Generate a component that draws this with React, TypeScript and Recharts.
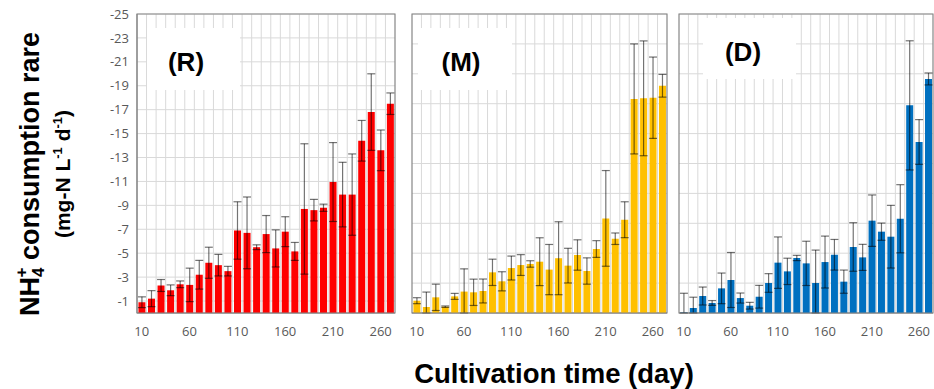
import React from "react"
import { BarChart, Bar, XAxis, YAxis, CartesianGrid, ErrorBar, ReferenceArea } from "recharts"

// cultivation day (categories)
const days = [10, 20, 30, 40, 50, 60, 70, 80, 90, 100, 110, 120, 130, 140, 150, 160, 170, 180, 190, 200, 210, 220, 230, 240, 250, 260, 270]

// (R) consumption rate + sd
const rVals = [-0.9, -1.2, -2.3, -1.9, -2.4, -2.35, -3.2, -4.2, -4.0, -3.5, -6.9, -6.7, -5.5, -6.6, -5.4, -6.8, -5.15, -8.7, -8.6, -8.8, -10.95, -9.9, -9.9, -14.4, -16.8, -13.6, -17.5]
const rErr = [0.45, 0.67, 0.5, 0.45, 0.28, 1.4, 1.2, 1.3, 0.9, 0.4, 2.4, 3.0, 0.2, 1.55, 1.55, 1.25, 0.75, 5.45, 0.9, 0.3, 3.3, 2.7, 3.4, 1.7, 3.2, 1.7, 0.9]

// (M)
const mVals = [-1.03, -0.5, -1.31, -0.53, -1.39, -1.79, -1.73, -1.84, -3.4, -2.65, -3.76, -4.01, -4.1, -4.29, -3.63, -4.58, -3.96, -4.85, -3.51, -5.35, -7.91, -6.21, -7.8, -17.9, -17.95, -18.0, -19.0]
const mErr = [0.25, 1.25, 1.1, 0.06, 0.25, 1.9, 1.1, 1.0, 1.1, 0.8, 1.0, 0.87, 0.27, 2.0, 2.1, 3.05, 1.45, 1.27, 1.1, 0.7, 4.0, 0.48, 1.5, 4.6, 4.8, 3.4, 0.95]

// (D)
const dVals = [-0.05, -0.42, -1.42, -0.84, -2.06, -2.76, -1.25, -0.61, -1.36, -2.51, -4.21, -3.48, -4.6, -4.15, -2.51, -4.26, -4.87, -2.62, -5.52, -4.65, -7.72, -6.8, -6.38, -7.88, -17.36, -14.3, -19.57]
const dErr = [1.6, 0.9, 0.75, 0.2, 1.28, 2.3, 0.42, 0.28, 0.95, 0.78, 2.15, 1.1, 0.22, 1.85, 2.75, 2.17, 1.28, 0.97, 2.03, 1.09, 2.15, 0.72, 2.62, 2.85, 5.4, 1.87, 0.5]

const rTicks = [-1, -3, -5, -7, -9, -11, -13, -15, -17, -19, -21, -23, -25]
const mdTicks = [-2.5, -5, -7.5, -10, -12.5, -15, -17.5, -20, -22.5, -25]

const tickFont = { fontFamily: "Open Sans", fontSize: 13, fill: "#595959" }

// vertical grid lines sit between categories, like excel
const boundaryLines = (props: any) => {
  const off = props.offset || {}
  const left = off.left ?? 0
  const w = off.width ?? 0
  const out: number[] = []
  for (let i = 1; i < days.length; i++) out.push(left + (w * i) / days.length)
  return out
}

interface PanelProps {
  vals: number[]
  errs: number[]
  color: string
  width: number
  marginLeft: number
  marginRight: number
  showY: boolean
  ticks: number[]
}

function Panel({ vals, errs, color, width, marginLeft, marginRight, showY, ticks }: PanelProps) {
  // error bar is cut at the axis (toward zero side can't go past 0)
  const data = days.map((d, i) => ({ day: d, v: vals[i], e: [errs[i], Math.min(errs[i], Math.abs(vals[i]))] }))
  return (
    <BarChart
      width={width}
      height={350}
      data={data}
      margin={{ top: 14, right: marginRight, bottom: 7, left: marginLeft }}
      barCategoryGap="15%"
    >
      <CartesianGrid stroke="#d9d9d9" verticalCoordinatesGenerator={boundaryLines} />
      <XAxis
        dataKey="day"
        interval={4}
        tickLine={false}
        axisLine={{ stroke: "#868686" }}
        tick={tickFont}
        tickMargin={8}
        height={30}
      />
      <YAxis
        type="number"
        domain={[-25, 0]}
        reversed
        allowDataOverflow
        ticks={ticks}
        interval={0}
        hide={!showY}
        width={showY ? 57 : 0}
        tickLine={false}
        axisLine={{ stroke: "#868686" }}
        tick={tickFont}
      />
      <Bar dataKey="v" fill={color} isAnimationActive={false}>
        <ErrorBar dataKey="e" width={4} stroke="rgba(0,0,0,0.55)" strokeWidth={1.2} direction="y" />
      </Bar>
      <ReferenceArea x1={10} x2={270} y1={-25} y2={0} fill="none" stroke="#868686" strokeWidth={1.2} ifOverflow="visible" />
    </BarChart>
  )
}

export default function App() {
  return (
    <div style={{ position: "absolute", left: 0, top: 0, width: 934, height: 389, background: "#fff", overflow: "hidden" }}>
      <div style={{ position: "absolute", left: 80, top: 0 }}>
        <Panel vals={rVals} errs={rErr} color="#ff0000" width={320} marginLeft={0} marginRight={5} showY ticks={rTicks} />
      </div>
      <div style={{ position: "absolute", left: 400, top: 0 }}>
        <Panel vals={mVals} errs={mErr} color="#ffc000" width={272} marginLeft={12} marginRight={5} showY={false} ticks={mdTicks} />
      </div>
      <div style={{ position: "absolute", left: 667, top: 0 }}>
        <Panel vals={dVals} errs={dErr} color="#0070c0" width={267} marginLeft={12} marginRight={1} showY={false} ticks={mdTicks} />
      </div>

      {/* panel tags, axis titles */}
      <svg width={934} height={389} style={{ position: "absolute", left: 0, top: 0, pointerEvents: "none" }}
        fontFamily="Liberation Sans, Arial, sans-serif" fontWeight="bold">
        <rect x={147} y={28} width={93} height={62} fill="#fff" />
        <text x={186} y={71} fontSize={26} textAnchor="middle">(R)</text>
        <rect x={418} y={28} width={94} height={62} fill="#fff" />
        <text x={461} y={71} fontSize={26} textAnchor="middle">(M)</text>
        <rect x={703} y={18} width={93} height={61} fill="#fff" />
        <text x={743} y={61} fontSize={26} textAnchor="middle">(D)</text>

        <text x={554} y={383} fontSize={27.5} textAnchor="middle">Cultivation time (day)</text>

        <text x={39} y={174} fontSize={27} textAnchor="middle" transform="rotate(-90 39 174)">
          <tspan>NH</tspan>
          <tspan fontSize={17} dy={5}>4</tspan>
          <tspan fontSize={17} dx={-10} dy={-17}>+</tspan>
          <tspan dy={12}> consumption rare</tspan>
        </text>
        <text x={70} y={174} fontSize={21} textAnchor="middle" transform="rotate(-90 70 174)">
          <tspan>(mg-N L</tspan>
          <tspan fontSize={13} dy={-8}>-1</tspan>
          <tspan dy={8}> d</tspan>
          <tspan fontSize={13} dy={-8}>-1</tspan>
          <tspan dy={8}>)</tspan>
        </text>
      </svg>
    </div>
  )
}
